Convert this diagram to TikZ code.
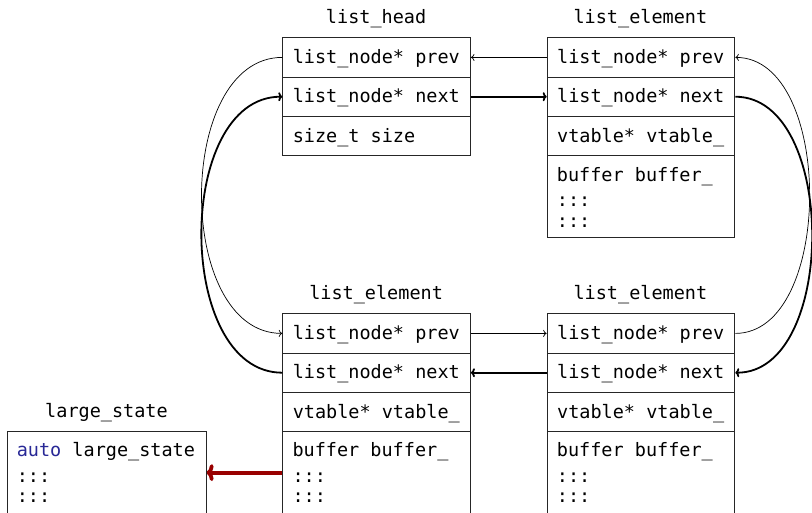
\documentclass[tikz,border=0pt]{standalone}
\usepackage{fontspec}
\setmonofont{DejaVu Sans Mono}
\usetikzlibrary{arrows.meta}
\definecolor{kw}{RGB}{40,40,150}
\definecolor{refred}{RGB}{153,0,0}
\newcommand{\mycodefnt}{\ttfamily\fontsize{18.5}{22.5}\selectfont\hfuzz 30pt\relax}
\tikzset{
  codefont/.style={font={\mycodefnt}},
  cell/.style={codefont, draw=black!85, line width=0.9pt, anchor=north west,
    minimum width=187.7pt, minimum height=39.3pt, text width=167.7pt,
    inner xsep=10pt, inner ysep=0pt, align=flush left, text height=15pt, text depth=2.5pt},
  bufcell/.style={draw=black!85, line width=0.9pt, anchor=north west,
    minimum width=187.7pt, minimum height=82pt, inner sep=0pt},
  txt/.style={codefont, anchor=base west, inner sep=0pt},
  title/.style={codefont, anchor=base, inner sep=0pt},
  thinarr/.style={line width=0.7pt, -{To[length=3.5pt,width=7pt]}},
  thickarr/.style={line width=1.8pt, -{To[length=4pt,width=9pt]}},
  redarr/.style={line width=3.8pt, draw=refred, -{To[length=7pt,width=17pt]}}
}
\begin{document}
\begin{tikzpicture}[x=1pt,y=-1pt]
\useasboundingbox (0,0) rectangle (812,512);
% titles
\node[title] (t1) at (376.1,23) {list\_head};
\node[title] (t2) at (640.4,23) {list\_element};
\node[title] (t3) at (376.1,299) {list\_element};
\node[title] (t4) at (640.4,299) {list\_element};
\node[title] (t5) at (106.5,417) {large\_state};
% list_head
\node[cell] (hprev) at (282.3,37.3) {list\_node* prev};
\node[cell] (hnext) at (282.3,76.6) {list\_node* next};
\node[cell] (hsize) at (282.3,115.9) {size\_t size};
% top right element
\node[cell] (aprev) at (546.7,37.3) {list\_node* prev};
\node[cell] (anext) at (546.7,76.6) {list\_node* next};
\node[cell] (avt) at (546.7,115.9) {vtable* vtable\_};
\node[bufcell] (abuf) at (546.7,155.2) {};
\node[txt] (abt) at (556.7,181) {buffer buffer\_};
\node[txt] (abd1) at (556.7,206.8) {:::};
\node[txt] (abd2) at (556.7,227) {:::};
% bottom left element
\node[cell] (bprev) at (282.3,313.3) {list\_node* prev};
\node[cell] (bnext) at (282.3,352.6) {list\_node* next};
\node[cell] (bvt) at (282.3,391.9) {vtable* vtable\_};
\node[bufcell] (bbuf) at (282.3,431.2) {};
\node[txt] (bbt) at (292.3,456.7) {buffer buffer\_};
\node[txt] (bbd1) at (292.3,482.5) {:::};
\node[txt] (bbd2) at (292.3,502.7) {:::};
% bottom right element
\node[cell] (cprev) at (546.7,313.3) {list\_node* prev};
\node[cell] (cnext) at (546.7,352.6) {list\_node* next};
\node[cell] (cvt) at (546.7,391.9) {vtable* vtable\_};
\node[bufcell] (cbuf) at (546.7,431.2) {};
\node[txt] (cbt) at (556.7,456.7) {buffer buffer\_};
\node[txt] (cbd1) at (556.7,482.5) {:::};
\node[txt] (cbd2) at (556.7,502.7) {:::};
% large_state
\node[bufcell, minimum width=198.4pt] (ls) at (7.3,431.2) {};
\node[txt] (lst) at (16.6,456.7) {\textcolor{kw}{auto} large\_state};
\node[txt] (lsd1) at (16.6,482.5) {:::};
\node[txt] (lsd2) at (16.6,502.7) {:::};
% horizontal links
\draw[thinarr] (aprev.west) -- (hprev.east);
\draw[thickarr] (hnext.east) -- (anext.west);
\draw[thinarr] (bprev.east) -- (cprev.west);
\draw[thickarr] (cnext.west) -- (bnext.east);
% left curves
\draw[thinarr] (hprev.west) to[out=180,in=180,looseness=1] (bprev.west);
\draw[thickarr] (bnext.west) to[out=180,in=180,looseness=1] (hnext.west);
% right curves
\draw[thinarr] (cprev.east) to[out=0,in=0,looseness=0.92] (aprev.east);
\draw[thickarr] (anext.east) to[out=0,in=0,looseness=0.95] (cnext.east);
% red link
\draw[redarr] (bbuf.west) -- (ls.east);
\end{tikzpicture}
\end{document}
